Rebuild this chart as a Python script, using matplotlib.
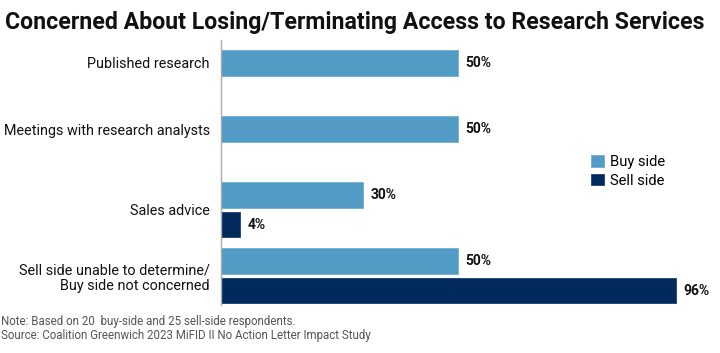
import numpy as np
import matplotlib.pyplot as plt

categories = ["Published research", "Meetings with research analysts", "Sales advice",
              "Sell side unable to determine/\nBuy side not concerned"]
buy_side = [50, 50, 30, 50]
sell_side = [0, 0, 4, 96]

buy_color = "#519bc4"
sell_color = "#002a5c"

plt.rcParams['font.family'] = ['Roboto', 'DejaVu Sans']

fig = plt.figure(figsize=(7.2, 3.53), dpi=100)
ax = fig.add_axes([221 / 720, 1 - 305 / 353, (700 - 221) / 720, (305 - 40) / 353])

pos = np.arange(len(categories))
gap = 0.447
h = 0.38
ax.barh(pos, buy_side, height=h, color=buy_color, edgecolor="#6fb0d4", linewidth=0.6, label="Buy side")
sell_pos = pos + gap
ax.barh(sell_pos, sell_side, height=h, color=sell_color, edgecolor="#1a3f6e", linewidth=0.6, label="Sell side")

for y, v in zip(pos, buy_side):
    ax.text(v + 1.6, y, f"{v}%", va="center", ha="left", fontsize=10, fontweight="bold", color="#111111")
for y, v in zip(sell_pos, sell_side):
    if v > 0:
        ax.text(v + 1.6, y, f"{v}%", va="center", ha="left", fontsize=10, fontweight="bold", color="#111111")

# tick labels centred on the bars that exist
tick_pos = [p + gap / 2 if s > 0 else p for p, s in zip(pos, sell_side)]
ax.set_yticks(tick_pos)
ax.set_yticklabels(categories, fontsize=10.4, color="#111111")
ax.tick_params(axis="y", length=0, pad=8)
ax.set_xticks([])

ax.set_xlim(0, (700 - 221) / 4.74)
ax.set_ylim((305 - 63) / 66, (40 - 63) / 66)

for s in ["top", "right", "bottom"]:
    ax.spines[s].set_visible(False)
ax.spines["left"].set_color("#aaaaaa")
ax.spines["left"].set_linewidth(1)

fig.legend(loc="upper left", bbox_to_anchor=(578 / 720, 1 - 142 / 353), frameon=False,
           fontsize=10.6, handlelength=0.85, handleheight=0.85, handletextpad=0.4, labelspacing=0.3)

fig.text(5 / 720, 1 - 22 / 353, "Concerned About Losing/Terminating Access to Research Services",
         fontsize=16.7, fontweight="bold", va="center", ha="left", color="#111111")
fig.text(1 / 720, 1 - 322 / 353, "Note: Based on 20  buy-side and 25 sell-side respondents.",
         fontsize=8.3, va="center", ha="left", color="#555555")
fig.text(1 / 720, 1 - 336 / 353, "Source: Coalition Greenwich 2023 MiFID II No Action Letter Impact Study",
         fontsize=8.3, va="center", ha="left", color="#555555")

fig.savefig("out.png", dpi=100)
